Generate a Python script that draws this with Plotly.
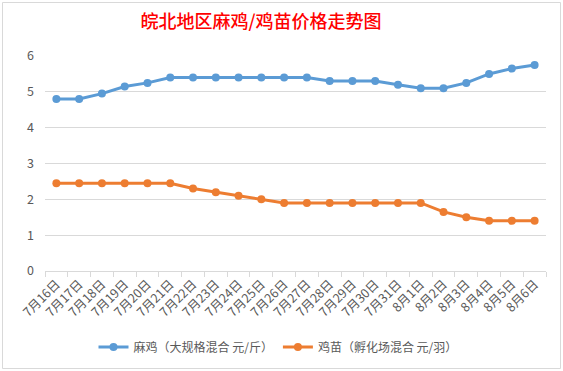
import plotly.graph_objects as go

dates = ["7月16日", "7月17日", "7月18日", "7月19日", "7月20日", "7月21日", "7月22日",
         "7月23日", "7月24日", "7月25日", "7月26日", "7月27日", "7月28日", "7月29日",
         "7月30日", "7月31日", "8月1日", "8月2日", "8月3日", "8月4日", "8月5日", "8月6日"]
maji = [4.8, 4.8, 4.95, 5.15, 5.25, 5.4, 5.4, 5.4, 5.4, 5.4, 5.4, 5.4,
        5.3, 5.3, 5.3, 5.2, 5.1, 5.1, 5.25, 5.5, 5.65, 5.75]
jimiao = [2.45, 2.45, 2.45, 2.45, 2.45, 2.45, 2.3, 2.2, 2.1, 2.0, 1.9, 1.9,
          1.9, 1.9, 1.9, 1.9, 1.9, 1.65, 1.5, 1.4, 1.4, 1.4]
name_maji = "麻鸡（大规格混合 元/斤）"
name_jimiao = "鸡苗（孵化场混合 元/羽）"
title = "皖北地区麻鸡/鸡苗价格走势图"

FONT = "Noto Sans CJK SC"
fig = go.Figure()
fig.add_trace(go.Scatter(x=dates, y=maji, name=name_maji, mode="lines+markers",
                         line=dict(color="#5B9BD5", width=3),
                         marker=dict(color="#5B9BD5", size=8)))
fig.add_trace(go.Scatter(x=dates, y=jimiao, name=name_jimiao, mode="lines+markers",
                         line=dict(color="#ED7D31", width=3),
                         marker=dict(color="#ED7D31", size=8)))

W, H = 563, 371
L, R, T, B = 45, 17, 56, 100
pw, ph = W - L - R, H - T - B

def px2paper_x(x):
    return (x - L) / pw

def px2paper_y(y):
    return (H - B - y) / ph

fig.update_layout(
    width=W, height=H,
    margin=dict(l=L, r=R, t=T, b=B, autoexpand=False),
    paper_bgcolor="white", plot_bgcolor="white",
    font=dict(family=FONT, color="#595959", size=12),
    title=dict(text=title, x=261 / W, xref="container", xanchor="center",
               y=1 - 22 / H, yref="container", yanchor="middle",
               font=dict(family=FONT, size=18, color="#FF0000", weight=500)),
    showlegend=True,
    legend=dict(orientation="h", x=278 / W, xanchor="center", xref="container",
                y=1 - 347 / H, yref="container", yanchor="middle",
                font=dict(family=FONT, size=12, color="#595959"),
                itemwidth=30, tracegroupgap=0),
    xaxis=dict(type="category", range=[-0.5, 21.5], tickangle=-45, automargin=False,
               showgrid=False, showline=True, linecolor="#D9D9D9", linewidth=1,
               ticks="outside", tickson="boundaries", ticklen=5, tickcolor="#D9D9D9",
               tickfont=dict(family=FONT, size=12.5, color="#595959")),
    yaxis=dict(range=[0, 6], dtick=1, showgrid=True, gridcolor="#D9D9D9", gridwidth=1,
               zeroline=False, showline=False, ticks="", ticklabelstandoff=10, automargin=False,
               tickfont=dict(family=FONT, size=12.5, color="#595959")),
)

fig.add_shape(type="rect", xref="paper", yref="paper",
              x0=px2paper_x(2.5), x1=px2paper_x(560.5),
              y0=px2paper_y(368.5), y1=px2paper_y(2.5),
              line=dict(color="#D9D9D9", width=1), fillcolor="rgba(0,0,0,0)", layer="below")

fig.write_html("out.html", config={"displayModeBar": False},
               post_script="document.body.style.margin='0';document.body.style.overflow='hidden';")
